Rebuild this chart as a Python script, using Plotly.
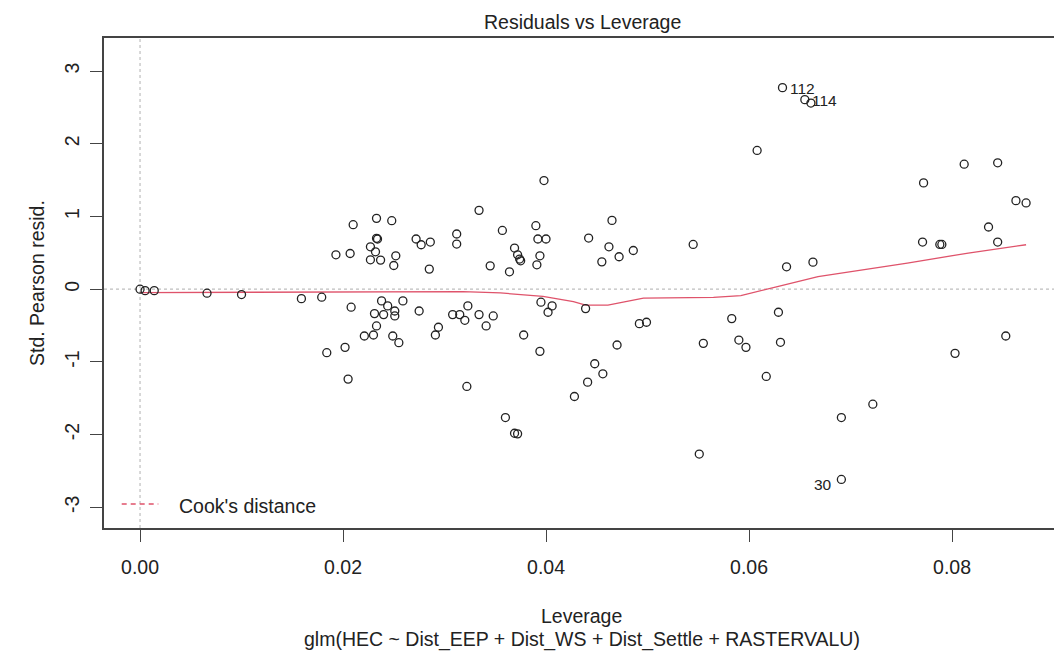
import plotly.graph_objects as go

# ---- data ----
leverage = [
    0.0210, 0.0233, 0.0248, 0.0233, 0.0234, 0.0227, 0.0232, 0.0227, 0.0237, 0.0252,
    0.0250, 0.0193, 0.0207,
    0.0000, 0.0005, 0.0014, 0.0066, 0.0100,
    0.0159, 0.0179, 0.0208, 0.0238, 0.0244, 0.0231, 0.0240, 0.0251, 0.0251, 0.0233,
    0.0221, 0.0230, 0.0249, 0.0255, 0.0184, 0.0202, 0.0205,
    0.0272, 0.0277, 0.0286, 0.0285, 0.0312, 0.0312, 0.0334, 0.0345, 0.0357, 0.0364,
    0.0369, 0.0372, 0.0374, 0.0375, 0.0390, 0.0392, 0.0400, 0.0394, 0.0391, 0.0398,
    0.0442, 0.0465, 0.0462, 0.0455, 0.0472, 0.0486, 0.0545,
    0.0259, 0.0275, 0.0294, 0.0291, 0.0308, 0.0315, 0.0320, 0.0323, 0.0334, 0.0341,
    0.0348, 0.0322, 0.0378, 0.0394, 0.0395, 0.0406, 0.0402, 0.0360, 0.0369, 0.0372,
    0.0439, 0.0448, 0.0456, 0.0441, 0.0428, 0.0470, 0.0492, 0.0499, 0.0551, 0.0555,
    0.0583, 0.0590, 0.0597,
    0.0629, 0.0631, 0.0617, 0.0691, 0.0722, 0.0691, 0.0803, 0.0853,
    0.0633, 0.0655, 0.0661, 0.0608, 0.0637, 0.0663, 0.0772, 0.0771, 0.0788, 0.0790,
    0.0812, 0.0845, 0.0836, 0.0845, 0.0863, 0.0873,
]
std_pearson_resid = [
    0.887, 0.974, 0.942, 0.700, 0.690, 0.583, 0.514, 0.404, 0.400, 0.459,
    0.326, 0.473, 0.491,
    0.000, -0.020, -0.020, -0.055, -0.074,
    -0.130, -0.110, -0.248, -0.161, -0.230, -0.336, -0.350, -0.300, -0.368, -0.506,
    -0.644, -0.630, -0.644, -0.736, -0.874, -0.800, -1.237,
    0.690, 0.611, 0.648, 0.276, 0.759, 0.621, 1.084, 0.321, 0.808, 0.239,
    0.566, 0.473, 0.414, 0.390, 0.873, 0.690, 0.690, 0.459, 0.335, 1.494,
    0.703, 0.946, 0.583, 0.376, 0.446, 0.532, 0.615,
    -0.161, -0.300, -0.524, -0.630, -0.350, -0.350, -0.428, -0.230, -0.350, -0.506,
    -0.368, -1.338, -0.630, -0.855, -0.179, -0.230, -0.317, -1.766, -1.982, -1.990,
    -0.267, -1.026, -1.164, -1.279, -1.476, -0.768, -0.474, -0.455, -2.268, -0.745,
    -0.405, -0.700, -0.800,
    -0.317, -0.731, -1.200, -1.766, -1.582, -2.617, -0.883, -0.644,
    2.772, 2.607, 2.560, 1.908, 0.308, 0.372, 1.462, 0.648, 0.615, 0.615,
    1.719, 1.738, 0.855, 0.648, 1.218, 1.186,
]

# smoother (red line)
smooth_lev = [0.0000, 0.0131, 0.0256, 0.0318, 0.0355, 0.0397, 0.0427, 0.0439, 0.0461,
              0.0496, 0.0565, 0.0592, 0.0628, 0.0668, 0.0756, 0.0816, 0.0873]
smooth_resid = [-0.047, -0.044, -0.033, -0.033, -0.051, -0.100, -0.170, -0.220, -0.220,
                -0.124, -0.113, -0.090, 0.036, 0.174, 0.359, 0.497, 0.611]

# labelled observations
label_text = ["112", "114", "30"]
label_lev = [0.0633, 0.0655, 0.0691]
label_resid = [2.772, 2.607, -2.617]
label_side = ["right", "right", "left"]

x_tick_vals = [0.00, 0.02, 0.04, 0.06, 0.08]
x_tick_text = ["0.00", "0.02", "0.04", "0.06", "0.08"]
y_tick_vals = [-3, -2, -1, 0, 1, 2, 3]
y_tick_text = ["-3", "-2", "-1", "0", "1", "2", "3"]

title_text = "Residuals vs Leverage"
x_title = "Leverage"
sub_title = "glm(HEC ~ Dist_EEP + Dist_WS + Dist_Settle + RASTERVALU)"
y_title = "Std. Pearson resid."
legend_text = "Cook's distance"

# ---- styling ----
W, H = 1054, 652
ML, MR, MT, MB = 104, 0, 38, 124
PW, PH = W - ML - MR, H - MT - MB
FONT = "Liberation Sans, Arial, sans-serif"
FS = 19.5
TXT = "#222222"
RED = "#DF536B"
AX = "#444444"


def px_x(p):
    return (p - ML) / PW


def px_y(p):
    return (H - MB - p) / PH


fig = go.Figure()
fig.add_trace(go.Scatter(
    x=smooth_lev, y=smooth_resid, mode="lines",
    line=dict(color=RED, width=1.3), hoverinfo="skip"))
fig.add_trace(go.Scatter(
    x=leverage, y=std_pearson_resid, mode="markers",
    marker=dict(symbol="circle-open", size=8, color="#222222",
                line=dict(width=1.3, color="#222222"))))

shapes = [
    dict(type="line", xref="x", yref="paper", x0=0, x1=0, y0=0, y1=1,
         line=dict(color="#BEBEBE", width=1.2, dash="dot"), layer="below"),
    dict(type="line", xref="paper", yref="y", x0=0, x1=1, y0=0, y1=0,
         line=dict(color="#BEBEBE", width=1.2, dash="dot"), layer="below"),
    dict(type="line", xref="paper", yref="paper", x0=px_x(121.7), x1=px_x(158.3),
         y0=px_y(504), y1=px_y(504), line=dict(color=RED, width=1.3, dash="5px,4px")),
]

annotations = [
    dict(text=title_text, xref="paper", yref="paper", x=px_x(582), y=px_y(22),
         xanchor="center", yanchor="middle", showarrow=False,
         font=dict(family=FONT, size=FS, color=TXT)),
    dict(text=x_title, xref="paper", yref="paper", x=px_x(581.7), y=px_y(616),
         xanchor="center", yanchor="middle", showarrow=False,
         font=dict(family=FONT, size=FS, color=TXT)),
    dict(text=sub_title, xref="paper", yref="paper", x=px_x(581.5), y=px_y(639.3),
         xanchor="center", yanchor="middle", showarrow=False,
         font=dict(family=FONT, size=FS, color=TXT)),
    dict(text=y_title, xref="paper", yref="paper", x=px_x(37), y=0.5,
         xanchor="center", yanchor="middle", showarrow=False, textangle=-90,
         font=dict(family=FONT, size=FS, color=TXT)),
    dict(text=legend_text, xref="paper", yref="paper", x=px_x(176.7), y=px_y(506.3),
         xanchor="left", yanchor="middle", showarrow=False,
         font=dict(family=FONT, size=FS, color=TXT)),
]
for t, lx, ly, side in zip(label_text, label_lev, label_resid, label_side):
    annotations.append(dict(
        text=t, x=lx, y=ly, xref="x", yref="y", showarrow=False,
        xanchor="left" if side == "right" else "right", yanchor="middle",
        xshift=5 if side == "right" else -7, yshift=-1 if side == "right" else -5,
        font=dict(family=FONT, size=15.5, color=TXT)))

fig.update_layout(
    width=W, height=H,
    margin=dict(l=ML, r=MR, t=MT, b=MB, pad=0),
    plot_bgcolor="white", paper_bgcolor="white",
    showlegend=False,
    shapes=shapes, annotations=annotations,
    xaxis=dict(range=[-0.00355, 0.09005], tickvals=x_tick_vals, ticktext=x_tick_text,
               ticks="outside", ticklen=12, tickwidth=1.3, tickcolor=AX,
               ticklabelstandoff=9,
               showline=True, linecolor=AX, linewidth=1.5, mirror=True,
               showgrid=False, zeroline=False,
               tickfont=dict(family=FONT, size=FS, color=TXT)),
    yaxis=dict(range=[-3.285, 3.455], tickvals=y_tick_vals, ticktext=y_tick_text,
               tickangle=-90, ticklabelstandoff=3,
               ticks="outside", ticklen=12, tickwidth=1.3, tickcolor=AX,
               showline=True, linecolor=AX, linewidth=1.5, mirror=False,
               showgrid=False, zeroline=False,
               tickfont=dict(family=FONT, size=FS, color=TXT)),
)

fig.write_html("out.html")
